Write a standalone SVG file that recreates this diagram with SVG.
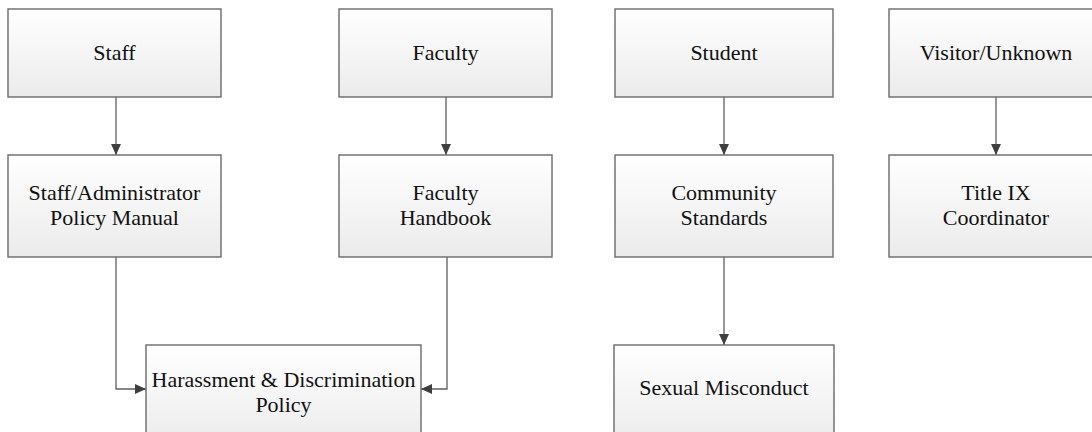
<svg xmlns="http://www.w3.org/2000/svg" width="1092" height="432" viewBox="0 0 1092 432">
<defs>
<linearGradient id="g" x1="0" y1="0" x2="0" y2="1">
<stop offset="0" stop-color="#ffffff"/>
<stop offset="1" stop-color="#ebebeb"/>
</linearGradient>
<marker id="ah" markerWidth="11" markerHeight="10" refX="11" refY="5" orient="auto" markerUnits="userSpaceOnUse">
<path d="M0,0 L11,5 L0,10 Z" fill="#3f3f3f"/>
</marker>
<style>
.box{fill:url(#g);stroke:#6a6a6a;stroke-width:1.4}
.t{font-family:'Liberation Serif','Times New Roman','DejaVu Serif',serif;font-size:22px;fill:#111;text-anchor:middle}
.c{fill:none;stroke:#5f5f5f;stroke-width:1.3;marker-end:url(#ah)}
</style>
</defs>
<rect width="1092" height="432" fill="#ffffff"/>
<g id="connectors">
<path class="c" d="M116,97 V155"/>
<path class="c" d="M446,97 V155"/>
<path class="c" d="M724,97 V155"/>
<path class="c" d="M996,97 V155"/>
<path class="c" d="M724,257 V345"/>
<path class="c" d="M116,257 V389 H146"/>
<path class="c" d="M447,257 V389 H421"/>
</g>
<g id="staff">
<rect class="box" x="8" y="9" width="213" height="88"/>
<text class="t" x="114.5" y="60">Staff</text>
</g>
<g id="faculty">
<rect class="box" x="339" y="9" width="213" height="88"/>
<text class="t" x="445.5" y="60">Faculty</text>
</g>
<g id="student">
<rect class="box" x="615" y="9" width="218" height="88"/>
<text class="t" x="724" y="60">Student</text>
</g>
<g id="visitor">
<rect class="box" x="889" y="9" width="214" height="88"/>
<text class="t" x="996" y="60">Visitor/Unknown</text>
</g>
<g id="staff-manual">
<rect class="box" x="8" y="155" width="213" height="102"/>
<text class="t" x="114.5" y="200">Staff/Administrator</text>
<text class="t" x="114.5" y="225">Policy Manual</text>
</g>
<g id="faculty-handbook">
<rect class="box" x="339" y="155" width="213" height="102"/>
<text class="t" x="445.5" y="200">Faculty</text>
<text class="t" x="445.5" y="225">Handbook</text>
</g>
<g id="community-standards">
<rect class="box" x="615" y="155" width="218" height="102"/>
<text class="t" x="724" y="200">Community</text>
<text class="t" x="724" y="225">Standards</text>
</g>
<g id="title-ix">
<rect class="box" x="889" y="155" width="214" height="102"/>
<text class="t" x="996" y="200">Title IX</text>
<text class="t" x="996" y="225">Coordinator</text>
</g>
<g id="harassment">
<rect class="box" x="146" y="345" width="275" height="102"/>
<text class="t" x="283.5" y="387">Harassment &amp; Discrimination</text>
<text class="t" x="283.5" y="412">Policy</text>
</g>
<g id="sexual-misconduct">
<rect class="box" x="614" y="345" width="220" height="102"/>
<text class="t" x="724" y="395">Sexual Misconduct</text>
</g>
</svg>
